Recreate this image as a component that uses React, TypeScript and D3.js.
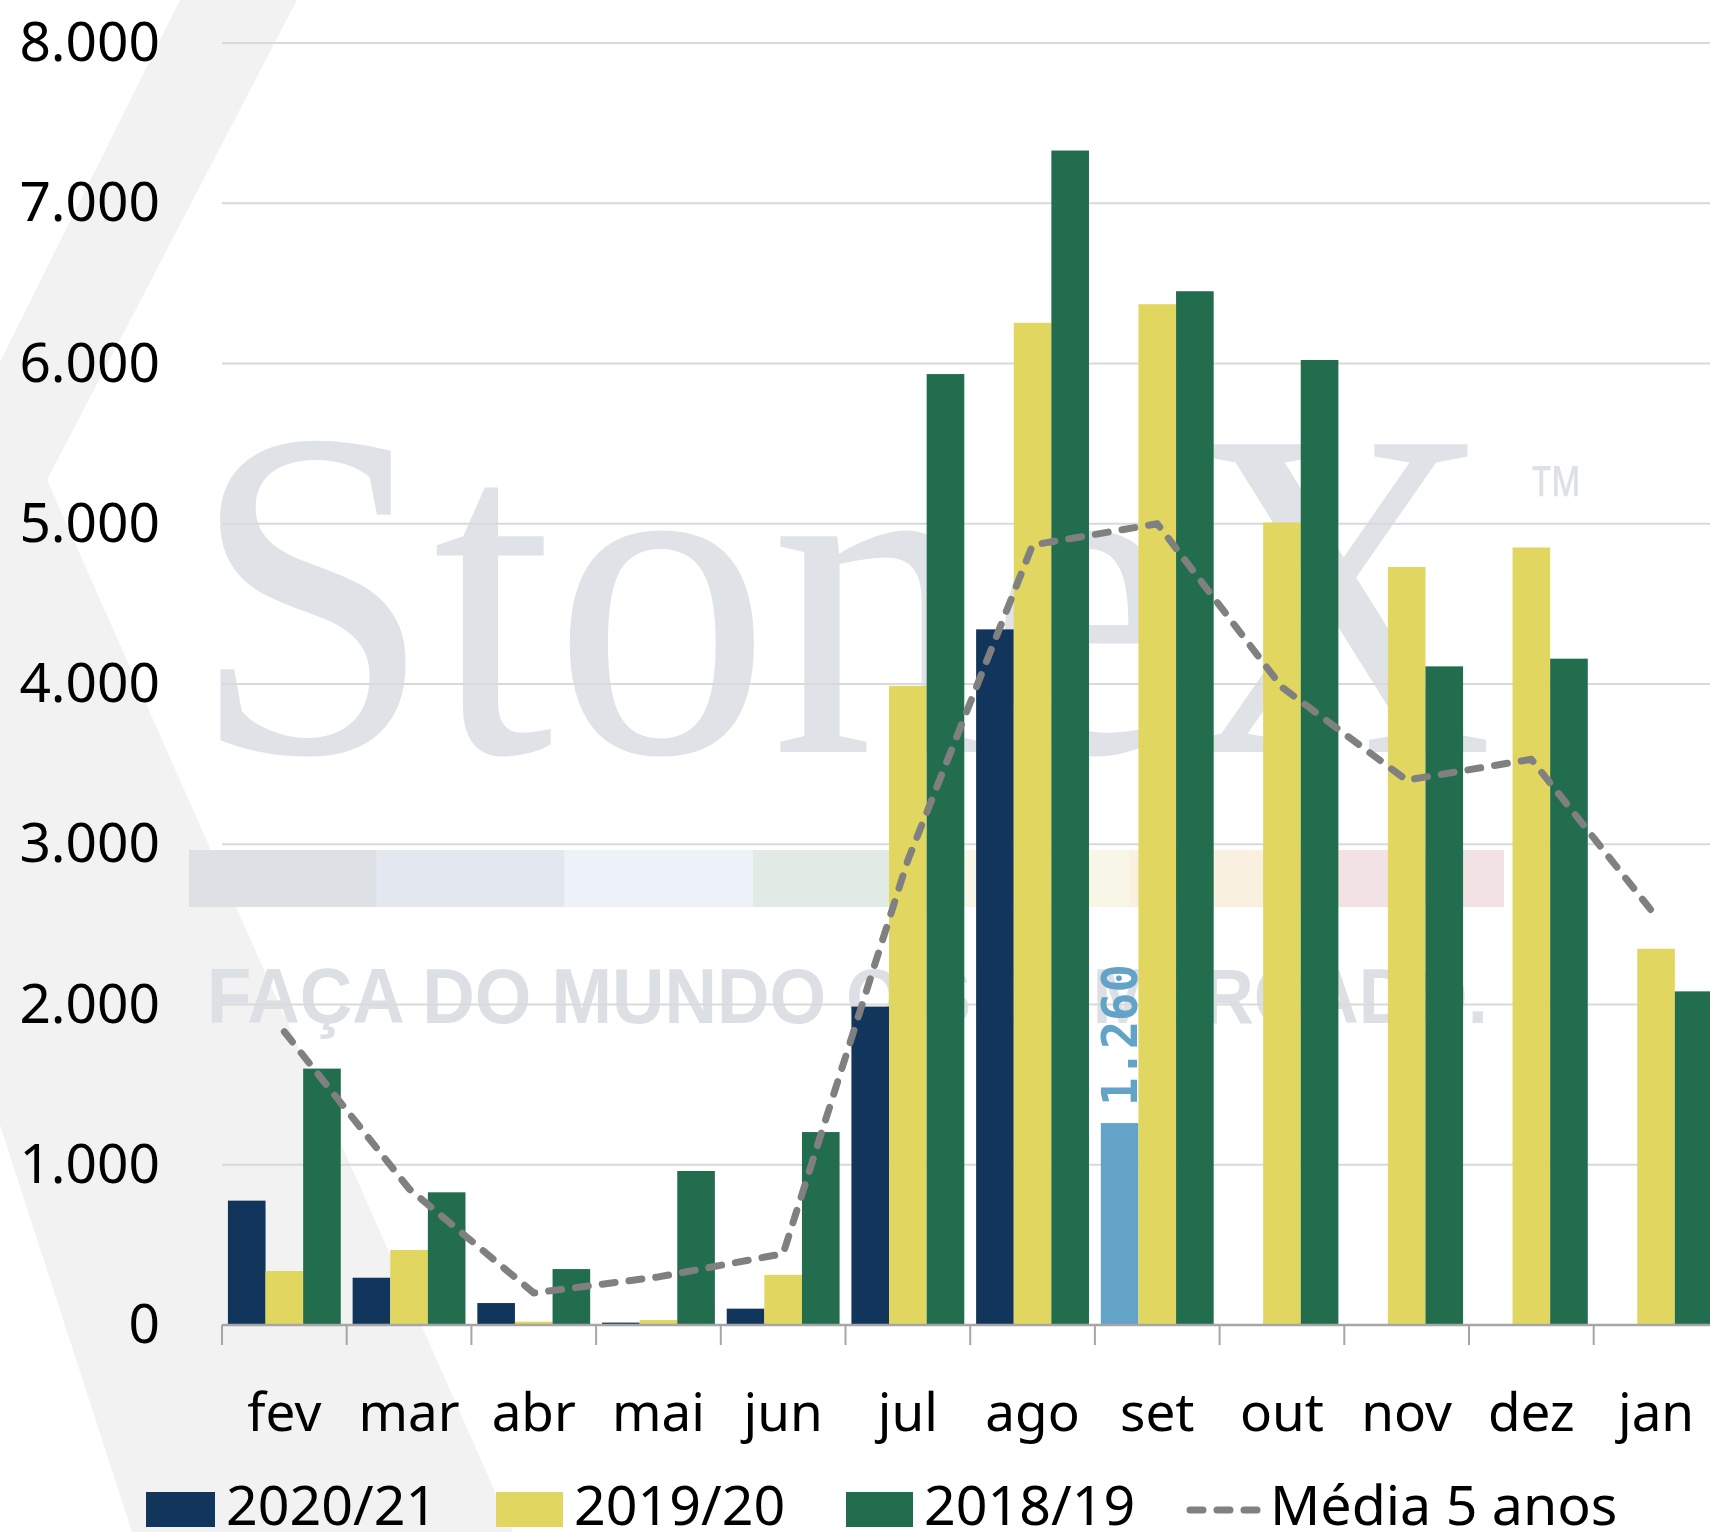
import React from "react";
import * as d3 from "d3";

const categories = ["fev", "mar", "abr", "mai", "jun", "jul", "ago", "set", "out", "nov", "dez", "jan"];
const s2020: (number | null)[] = [776, 295, 137, 15, 102, 1987, 4341, 1260, null, null, null, null];
const s2019: number[] = [337, 468, 21, 31, 313, 3988, 6254, 6370, 5008, 4730, 4852, 2348];
const s2018: number[] = [1600, 828, 349, 961, 1204, 5934, 7329, 6451, 6022, 4110, 4158, 2082];
const media5: number[] = [1830, 850, 200, 300, 445, 2900, 4867, 5000, 3980, 3400, 3530, 2550];
const yTicks = [0, 1000, 2000, 3000, 4000, 5000, 6000, 7000, 8000];
const seriesNames = ["2020/21", "2019/20", "2018/19"];
const lineName = "Média 5 anos";
const highlightIndex = 7; // "set" bar of 2020/21 shown in light blue with label
const watermarkBarColors = ["#DDE1E6", "#E3E8F0", "#EDF2F9", "#E2EAE6", "#F8F6E6", "#FAF0E0", "#F2E2E3"];

const W = 1710;
const H = 1532;
const COLORS = ["#12355B", "#E1D760", "#216D4D"];
const HIGHLIGHT = "#63A3C7";
const LINE_COLOR = "#808080";
const FONT = "'Noto Sans', sans-serif";

export default function App() {
  const left = 222;
  const step = 124.7;
  const x0 = d3
    .scaleBand<string>()
    .domain(categories)
    .range([left, left + step * categories.length])
    .paddingInner(0.095)
    .paddingOuter(0.0475);
  const x1 = d3.scaleBand<string>().domain(seriesNames).range([0, x0.bandwidth()]).padding(0);
  const y = d3.scaleLinear().domain([0, 8000]).range([1325, 43]);

  const seriesData = [s2020, s2019, s2018];
  const line = d3
    .line<number>()
    .x((_, i) => (x0(categories[i]) as number) + x0.bandwidth() / 2)
    .y((d) => y(d));

  const ticksX = categories.map((c) => (x0(c) as number) - (x0.step() - x0.bandwidth()) / 2);

  const wmBarX = d3.scaleBand<number>().domain(d3.range(watermarkBarColors.length)).range([189, 1504]);

  const hlVal = s2020[highlightIndex] as number;
  const hlX = (x0(categories[highlightIndex]) as number) + (x1(seriesNames[0]) as number) + x1.bandwidth() / 2;

  return (
    <svg width={W} height={H} style={{ position: "absolute", left: 0, top: 0, background: "#fff" }}>
      <rect x={0} y={0} width={W} height={H} fill="#fff" />
      {/* background chevron */}
      <polygon points="180,0 297,0 47,480 513,1532 132,1532 0,1125 0,362" fill="#F2F2F2" />
      {/* watermark */}
      <g>
        <text
          x={191}
          y={752}
          fontFamily="'Liberation Serif', serif"
          fontSize={470}
          fill="#DFE2E7"
          textLength={1303}
          lengthAdjust="spacingAndGlyphs"
        >
          StoneX
        </text>
        <text
          x={1527}
          y={521}
          fontFamily="'Liberation Sans', sans-serif"
          fontSize={80}
          fill="#DDE1E6"
          textLength={57}
          lengthAdjust="spacingAndGlyphs"
        >
          ™
        </text>
        {watermarkBarColors.map((c, i) => (
          <rect key={i} x={wmBarX(i)} y={850} width={wmBarX.bandwidth()} height={57} fill={c} />
        ))}
        <text
          x={207}
          y={1023}
          fontFamily="'Liberation Sans', sans-serif"
          fontWeight="bold"
          fontSize={78}
          fill="#DCE0E5"
          textLength={1281}
          lengthAdjust="spacingAndGlyphs"
        >
          FAÇA DO MUNDO O SEU MERCADO.
        </text>
      </g>
      {/* gridlines */}
      {yTicks.slice(1).map((t) => (
        <line key={t} x1={left} x2={W} y1={y(t)} y2={y(t)} stroke="#D9D9D9" strokeWidth={2} />
      ))}
      {/* y labels */}
      {yTicks.map((t) => (
        <text
          key={t}
          x={160}
          y={y(t) + 18}
          textAnchor="end"
          fontFamily={FONT}
          fontSize={55}
          fill="#000"
        >
          {d3.format(",")(t).replace(/,/g, ".")}
        </text>
      ))}
      {/* bars */}
      {seriesData.map((arr, si) =>
        arr.map((v, i) =>
          v == null ? null : (
            <rect
              key={`${si}-${i}`}
              x={(x0(categories[i]) as number) + (x1(seriesNames[si]) as number)}
              y={y(v)}
              width={x1.bandwidth()}
              height={y(0) - y(v)}
              fill={si === 0 && i === highlightIndex ? HIGHLIGHT : COLORS[si]}
            />
          )
        )
      )}
      {/* axis */}
      <line x1={left} x2={W} y1={y(0)} y2={y(0)} stroke="#A6A6A6" strokeWidth={2.5} />
      {ticksX.map((tx, i) => (
        <line key={i} x1={tx} x2={tx} y1={y(0)} y2={y(0) + 20} stroke="#A6A6A6" strokeWidth={2} />
      ))}
      {/* x labels */}
      {categories.map((c) => (
        <text
          key={c}
          x={(x0(c) as number) + x0.bandwidth() / 2}
          y={1431}
          textAnchor="middle"
          fontFamily={FONT}
          fontSize={53}
          fill="#000"
        >
          {c}
        </text>
      ))}
      {/* line */}
      <path
        d={line(media5) as string}
        fill="none"
        stroke={LINE_COLOR}
        strokeWidth={7}
        strokeDasharray="13 14"
        strokeLinecap="round"
        strokeLinejoin="round"
      />
      {/* data label */}
      <text
        transform={`translate(${hlX + 17},${y(hlVal) - 17}) rotate(-90)`}
        fontFamily="'DejaVu Sans Mono', monospace"
        fontWeight="bold"
        fontSize={50}
        fill={HIGHLIGHT}
        textLength={142}
        lengthAdjust="spacingAndGlyphs"
      >
        {d3.format(",")(hlVal).replace(/,/g, ".")}
      </text>
      {/* legend */}
      <g fontFamily={FONT} fontSize={55.5} fill="#000">
        <rect x={146} y={1492} width={69} height={35} fill={COLORS[0]} />
        <text x={226} y={1525}>{seriesNames[0]}</text>
        <rect x={496} y={1492} width={67} height={35} fill={COLORS[1]} />
        <text x={574} y={1525}>{seriesNames[1]}</text>
        <rect x={846} y={1492} width={67} height={35} fill={COLORS[2]} />
        <text x={924} y={1525}>{seriesNames[2]}</text>
        <line
          x1={1190}
          x2={1262}
          y1={1510}
          y2={1510}
          stroke={LINE_COLOR}
          strokeWidth={7}
          strokeDasharray="13 14"
          strokeLinecap="round"
        />
        <text x={1270} y={1525}>{lineName}</text>
      </g>
    </svg>
  );
}
